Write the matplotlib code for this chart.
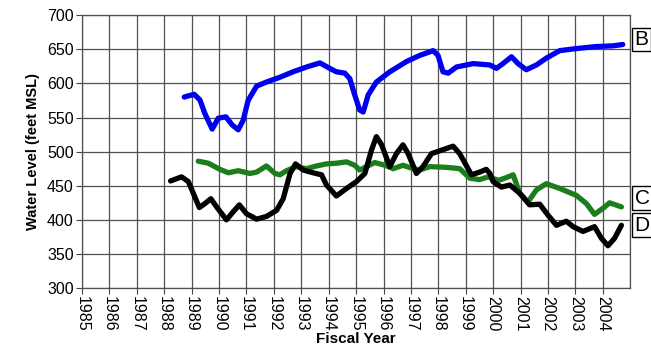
import matplotlib.pyplot as plt

plt.rcParams['font.family'] = ['Liberation Sans', 'DejaVu Sans']

# well B
b_year = [1988.73, 1989.09, 1989.30, 1989.48, 1989.75, 1989.97, 1990.25, 1990.48,
          1990.70, 1990.88, 1991.06, 1991.37, 1991.73, 1992.22, 1992.70, 1993.19,
          1993.68, 1994.04, 1994.28, 1994.59, 1994.77, 1994.95, 1995.13, 1995.26,
          1995.44, 1995.74, 1996.23, 1996.84, 1997.32, 1997.81, 1997.99, 1998.17,
          1998.36, 1998.66, 1999.27, 1999.88, 2000.12, 2000.36, 2000.67, 2000.91,
          2001.21, 2001.58, 2001.94, 2002.43, 2003.03, 2003.76, 2004.37, 2004.73]
b_level = [580, 584, 576, 556, 533, 549, 551, 539,
           532, 546, 575, 596, 602, 609, 617, 624,
           630, 622, 617, 615, 607, 583, 561, 558,
           583, 602, 617, 632, 641, 648, 641, 617,
           615, 624, 629, 627, 622, 629, 639, 629,
           620, 627, 637, 648, 651, 654, 655, 657]

# well C
c_year = [1989.24, 1989.61, 1990.03, 1990.34, 1990.70, 1991.13, 1991.37, 1991.73,
          1992.04, 1992.22, 1992.46, 1992.83, 1993.19, 1993.56, 1993.92, 1994.28,
          1994.65, 1994.95, 1995.13, 1995.38, 1995.68, 1996.05, 1996.35, 1996.71,
          1997.08, 1997.32, 1997.69, 1998.29, 1998.78, 1999.15, 1999.51, 1999.82,
          2000.20, 2000.49, 2000.73, 2000.97, 2001.27, 2001.58, 2001.94, 2002.43,
          2003.03, 2003.40, 2003.70, 2004.01, 2004.25, 2004.68]
c_level = [486, 483, 474, 469, 472, 468, 470, 479,
           468, 466, 472, 478, 475, 479, 482, 483,
           485, 480, 473, 478, 484, 480, 475, 480,
           475, 473, 478, 477, 475, 461, 459, 463,
           458, 462, 466, 439, 426, 444, 453, 446,
           436, 424, 408, 417, 425, 419]

# well D
d_year = [1988.23, 1988.63, 1988.88, 1989.06, 1989.28, 1989.49, 1989.70, 1989.91,
          1990.27, 1990.52, 1990.74, 1991.00, 1991.37, 1991.73, 1992.10, 1992.34,
          1992.59, 1992.79, 1993.07, 1993.43, 1993.74, 1993.92, 1994.28, 1994.65,
          1995.01, 1995.32, 1995.56, 1995.74, 1995.93, 1996.23, 1996.47, 1996.71,
          1996.90, 1997.20, 1997.44, 1997.75, 1998.11, 1998.54, 1998.78, 1999.21,
          1999.51, 1999.75, 1999.88, 2000.00, 2000.30, 2000.61, 2000.97, 2001.33,
          2001.70, 2002.00, 2002.31, 2002.67, 2002.92, 2003.28, 2003.70, 2003.95,
          2004.19, 2004.43, 2004.68]
d_level = [457, 463, 456, 439, 418, 424, 431, 419,
           400, 412, 422, 409, 401, 405, 414, 431,
           468, 482, 473, 469, 466, 451, 435, 446,
           456, 468, 502, 522, 510, 478, 497, 510,
           497, 468, 478, 497, 502, 508, 497, 466,
           470, 474, 468, 456, 448, 451, 439, 422,
           423, 407, 392, 398, 390, 383, 390, 373,
           362, 373, 392]

years = list(range(1985, 2005))

fig = plt.figure(figsize=(6.51, 3.61), dpi=100)
ax = fig.add_axes([0.126, 0.202, 0.842, 0.756])

style = dict(lw=3.8, solid_joinstyle='round', solid_capstyle='round')
ax.plot(b_year, b_level, color='#0000f0', **style)
ax.plot(c_year, c_level, color='#1b7d1b', **style)
ax.plot(d_year, d_level, color='black', **style)

ax.set_xlim(1985, 2005)
ax.set_ylim(300, 700)
ax.set_xticks(years)
ax.set_xticklabels([str(y) for y in years], rotation=270, fontsize=11.5)
ax.set_yticks(range(300, 701, 50))
ax.tick_params(axis='y', labelsize=11.5, length=4, color='#444444', pad=2)
ax.tick_params(axis='x', length=4, color='#444444', pad=2)
ax.set_xticks([2005], minor=True)
ax.tick_params(axis='x', which='minor', length=0)
ax.grid(True, which='both', color='#505050', lw=0.9)
for s in ax.spines.values():
    s.set_color('#505050')
    s.set_linewidth(0.9)

ax.set_xlabel('Fiscal Year', fontsize=11, fontweight='bold', labelpad=0)
ax.set_ylabel('Water Level (feet MSL)', fontsize=10.5, fontweight='bold', labelpad=5)

for name, yf in [('B', 0.912), ('C', 0.330), ('D', 0.231)]:
    ax.text(1.008, yf, name, transform=ax.transAxes, fontsize=15, va='center', ha='left',
            clip_on=False,
            bbox=dict(boxstyle='square,pad=0.1', fc='white', ec='black', lw=1))

fig.savefig('out.png', dpi=100)
